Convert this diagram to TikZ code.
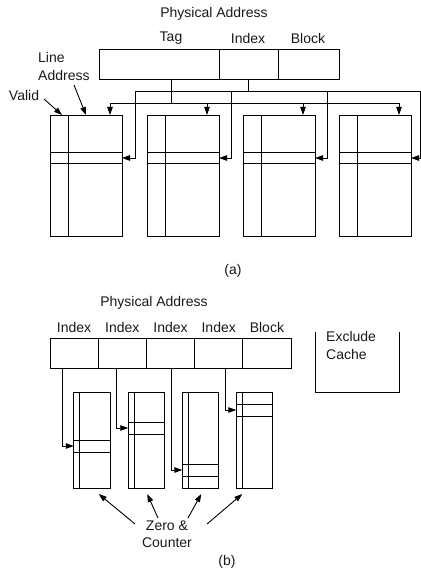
\documentclass[tikz,border=0pt]{standalone}
\usepackage{fontspec}
\setmainfont{Liberation Sans}
\usetikzlibrary{arrows.meta}
\begin{document}
\begin{tikzpicture}[x=1pt,y=-1pt,
  box/.style={draw, line width=0.9pt, inner sep=0pt, outer sep=0pt},
  lbl/.style={font=\fontsize{14}{18}\selectfont, inner sep=0pt, text=black!90},
  conn/.style={line width=0.9pt},
  arr/.style={conn, -{Triangle[length=8pt,width=5.5pt]}}]
\useasboundingbox (0,0) rectangle (420,569);

% ---------- (a) ----------
\node[lbl] (pa1) at (214,14) {Physical Address};
\node[lbl] (ltag) at (171,38) {Tag};
\node[lbl] (lidx) at (248,38) {Index};
\node[lbl] (lblk) at (308,38) {Block};
\node[box, minimum width=120pt, minimum height=30pt] (tag) at (159,64) {};
\node[box, minimum width=59pt, minimum height=30pt] (idx) at (248.5,64) {};
\node[box, minimum width=61pt, minimum height=30pt] (blk) at (308.5,64) {};

\node[lbl, anchor=west, align=left] (laddr) at (38,66) {Line\\Address};
\node[lbl] (valid) at (24,95) {Valid};

\foreach \n/\cx in {1/86,2/183,3/279,4/375} {
  \node[box, minimum width=72pt, minimum height=121pt] (c\n) at (\cx,175.5) {};
  \draw[conn] ([xshift=18pt]c\n.north west) -- ([xshift=18pt]c\n.south west);
  \draw[conn] ([yshift=-37pt]c\n.north west) -- ([yshift=-37pt]c\n.north east);
  \draw[conn] ([yshift=-48pt]c\n.north west) -- ([yshift=-48pt]c\n.north east);
}

\coordinate (va) at (44,99);
\coordinate (la) at (74,85);
\draw[arr] (va) -- ([xshift=12pt]c1.north west);
\draw[arr] (la) -- ([xshift=36pt]c1.north west);

% index bus
\coordinate (h1) at (135,91);
\coordinate (h2) at (420,91);
\draw[conn] (idx.south) -- (idx.south |- h1);
\draw[conn] (h1) -- (h2);
\foreach \n/\x in {1/135,2/231,3/327,4/420}
  \draw[arr] (\x,91) |- ([yshift=-43pt]c\n.north east);

% tag bus
\coordinate (g1) at (110,103);
\coordinate (g2) at (399,103);
\draw[conn] (tag.south -| 171,0) -- (171,103);
\draw[conn] (g1) -- (g2);
\foreach \n/\x in {1/110,2/207,3/303,4/399}
  \draw[arr] (\x,103) -- (c\n.north -| \x,0);

\node[lbl] (capa) at (233,271) {(a)};

% ---------- (b) ----------
\node[lbl] (pa2) at (154,303) {Physical Address};
\foreach \n/\cx/\t in {1/74.1/Index,2/122.3/Index,3/170.5/Index,4/218.7/Index,5/266.9/Block} {
  \node[box, minimum width=48.2pt, minimum height=30pt] (f\n) at (\cx,353) {};
  \node[lbl] (l\n) at (\cx,327) {\t};
}

\draw[conn] (315,332) -- (315,392) -- (399,392) -- (399,332);
\node[lbl, anchor=north west, align=left] (excl) at (326,331) {Exclude\\Cache};

\foreach \n/\cx/\la/\ya/\src in {1/92/440/446/62, 2/146.5/422/428/116, 3/200.5/464/470/171, 4/254.5/404/410/225} {
  \node[box, minimum width=36.5pt, minimum height=96pt] (b\n) at (\cx,440) {};
  \draw[conn] ([xshift=6pt]b\n.north west) -- ([xshift=6pt]b\n.south west);
  \draw[conn] (b\n.west |- 0,\la) -- (b\n.east |- 0,\la);
  \draw[conn] (b\n.west |- 0,\la+12) -- (b\n.east |- 0,\la+12);
  \draw[arr] (f\n.south -| \src,0) |- (b\n.west |- 0,\ya);
}

\node[lbl, font=\fontsize{14}{17}\selectfont, align=center] (zc) at (167,534.5) {Zero \&\\Counter};
\coordinate (z1) at (135,524);
\coordinate (z2) at (158,518);
\coordinate (z3) at (188,518);
\coordinate (z4) at (207,524);
\draw[arr] (z1) -- ([xshift=25pt,yshift=-6pt]b1.south west);
\draw[arr] (z2) -- ([xshift=19pt,yshift=-6pt]b2.south west);
\draw[arr] (z3) -- ([xshift=19pt,yshift=-6pt]b3.south west);
\draw[arr] (z4) -- ([xshift=6pt,yshift=-6pt]b4.south west);

\node[lbl] (capb) at (227,562) {(b)};
\end{tikzpicture}
\end{document}
